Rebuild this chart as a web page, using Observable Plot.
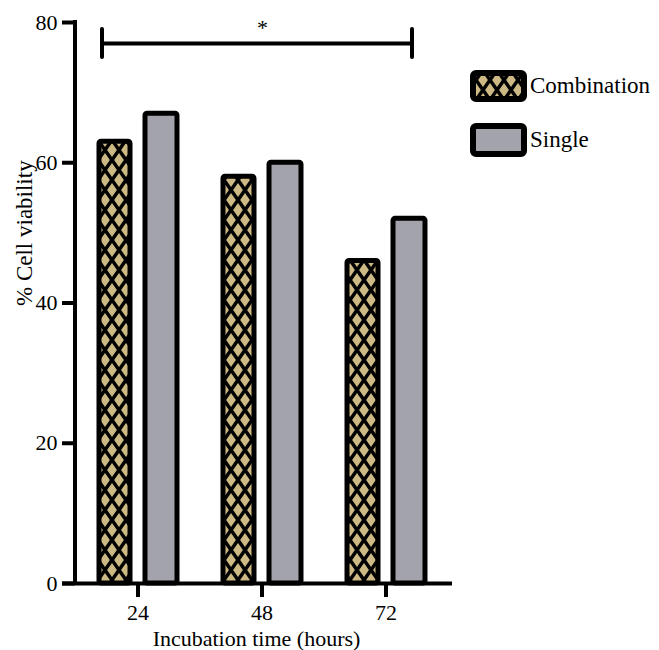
<!DOCTYPE html>
<html><head><meta charset="utf-8">
<script src="https://cdn.jsdelivr.net/npm/d3@7"></script>
<script src="https://cdn.jsdelivr.net/npm/@observablehq/plot@0.6"></script>
<style>
html,body{margin:0;padding:0;background:#fff;}
#chart{position:relative;width:659px;height:650px;}
#chart svg, #chart svg text { font-family: "Liberation Serif", "Times New Roman", "DejaVu Serif", serif !important; }
</style></head>
<body>
<svg width="0" height="0" style="position:absolute">
 <defs>
  <pattern id="hatch" patternUnits="userSpaceOnUse" width="14" height="20">
   <rect width="14" height="20" fill="#cdb983"/>
   <path d="M-28,-20L14,40M14,-20L-28,40M-14,-20L28,40M28,-20L-14,40M0,-20L42,40M42,-20L0,40" stroke="#000" stroke-width="3.5" fill="none"/>
  </pattern>
 </defs>
</svg>
<div id="chart"></div>
<script>
const hours = [24, 48, 72];
const series = ["Combination", "Single"];
const combination = [63, 58, 46];
const single = [67, 60, 52];
const yTicks = [0, 20, 40, 60, 80];
const seriesFills = ["url(#hatch)", "#a3a3ab"];
const xLabel = "Incubation time (hours)";
const yLabel = "% Cell viability";
const bracket = [{from: 24, to: 72, y: 77, capLow: 75, capHigh: 79, label: "*"}];

const data = hours.flatMap((h, i) => [
  {hour: h, series: series[0], value: combination[i]},
  {hour: h, series: series[1], value: single[i]}
]);

const font = "Liberation Serif, Times New Roman, DejaVu Serif, serif";

const plot = Plot.plot({
  width: 659, height: 650,
  marginLeft: 75, marginRight: 210, marginTop: 22, marginBottom: 67,
  style: {fontFamily: font, fontSize: "22px", color: "#000", background: "#fff", overflow: "visible"},
  x: {domain: hours, paddingInner: 0.33, paddingOuter: 0.173, label: null},
  y: {domain: [0, 80], label: null},
  color: {domain: series, range: seriesFills},
  marks: [
    Plot.barY(data.filter(d => d.series === series[0]), {x: "hour", y: "value", fill: "series", stroke: "#000", strokeWidth: 5, rx: 2, insetLeft: 3, insetRight: 49}),
    Plot.barY(data.filter(d => d.series === series[1]), {x: "hour", y: "value", fill: "series", stroke: "#000", strokeWidth: 5, rx: 2, insetLeft: 49, insetRight: 2}),
    Plot.ruleY([0], {stroke: "#000", strokeWidth: 4, insetLeft: -13, insetRight: -3}),
    Plot.axisY({ticks: yTicks, tickSize: 13, tickPadding: 5, strokeWidth: 4, fontSize: 22, label: null}),
    Plot.axisX({tickSize: 14, tickPadding: 7, strokeWidth: 4, fontSize: 22, label: null}),
    Plot.ruleY(bracket, {x1: "from", x2: "to", y: "y", stroke: "#000", strokeWidth: 4, insetLeft: 5.5, insetRight: 15.5}),
    Plot.ruleX(bracket, {x: "from", y1: "capLow", y2: "capHigh", stroke: "#000", strokeWidth: 4, strokeLinecap: "round", dx: -36}),
    Plot.ruleX(bracket, {x: "to", y1: "capLow", y2: "capHigh", stroke: "#000", strokeWidth: 4, strokeLinecap: "round", dx: 26}),
    Plot.text(bracket, {text: "label", frameAnchor: "top", lineAnchor: "top", dy: -3, fontSize: 22}),
    Plot.text([yLabel], {frameAnchor: "left", rotate: -90, lineAnchor: "middle", dx: -51, dy: 3, fontSize: 23}),
    Plot.text([xLabel], {frameAnchor: "bottom", lineAnchor: "middle", dx: -6, dy: 55, fontSize: 22})
  ]
});

// y-axis domain line, placed with the plot's own scales
const xs = plot.scale("x"), ys = plot.scale("y");
const svg = d3.select(plot);
svg.append("line")
  .attr("x1", xs.range[0]).attr("x2", xs.range[0])
  .attr("y1", ys.range[0]).attr("y2", ys.range[1])
  .attr("stroke", "#000").attr("stroke-width", 4).attr("stroke-linecap", "square");

// legend
const lg = svg.append("g").attr("font-family", font).attr("font-size", 23).attr("text-anchor", "start");
const legendRows = [{y: 73, h: 26}, {y: 126, h: 28}];
series.forEach((s, i) => {
  const r = legendRows[i];
  lg.append("rect").attr("x", 473).attr("y", r.y).attr("width", 51).attr("height", r.h)
    .attr("rx", 3).attr("fill", seriesFills[i]).attr("stroke", "#000").attr("stroke-width", 6);
  lg.append("text").attr("x", 530).attr("y", r.y + r.h / 2).attr("dy", "0.32em")
    .attr("text-anchor", "start").attr("fill", "#000").text(s);
});

document.getElementById("chart").appendChild(plot);
</script>
</body></html>
